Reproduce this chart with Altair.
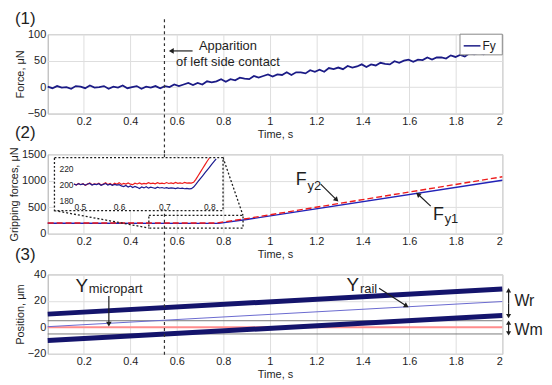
import altair as alt
import numpy as np
import pandas as pd

FONT = "Liberation Sans"
INK = "#1e1e1e"
NAVY = "#1b1b86"

# ---------------- shared x axis ----------------
time_ticks = [0.2, 0.4, 0.6, 0.8, 1.0, 1.2, 1.4, 1.6, 1.8, 2.0]
x_domain = [0.045, 2.0]
contact_time = 0.547

# ---------------- (1) force Fy ----------------
force_domain = [-50, 100]
force_ticks = [-50, 0, 50, 100]
fy_force = [1, -2, 2, -1, 0, -3, 2, 1, -2, 3, -1, 0, 2, -3, 1, -1, 3, -2, 0, 2, -3, 1, -1, 2, -2,
            2, 0, 5, 2, 5, 8, 4, 8, 5, 11, 9, 11, 15, 10, 15, 13, 18, 16, 15, 21, 18, 21, 24, 20,
            24, 23, 28, 23, 28, 28, 26, 32, 29, 33, 29, 36, 34, 37, 34, 40, 37, 39, 43, 38, 43,
            41, 46, 44, 43, 49, 46, 50, 52, 48, 52, 51, 56, 52, 56, 56, 54, 60, 57, 61, 58, 64,
            62, 65, 62, 68, 65, 68, 68]
fy_time = np.round(np.linspace(0.045, 2.0, len(fy_force)), 4)

# ---------------- (2) gripping forces ----------------
grip_domain = [0, 1500]
grip_ticks = [0, 500, 1000, 1500]
fy1_time = [0.045, 0.78, 0.90, 2.0]
fy1_force = [198, 195, 268, 1010]
fy2_time = [0.045, 0.77, 0.90, 2.0]
fy2_force = [202, 202, 285, 1075]

inset_x_domain = [0.5, 0.82]
inset_x_ticks = [0.5, 0.6, 0.7, 0.8]
inset_y_domain = [179, 233]
inset_y_ticks = [180, 200, 220]
inset_time_flat = np.round(np.arange(0.5, 0.7601, 0.005), 3)
inset_fy2_flat = [200.5, 199.0, 201.0, 199.5, 200.8, 198.8, 200.2, 201.5, 199.3, 200.6,
                  199.8, 201.2, 199.0, 200.4, 201.8, 199.6, 200.9, 199.2, 201.4, 200.0,
                  202.0, 199.8, 201.0, 200.3, 201.6, 200.1, 199.5, 201.3, 200.4, 201.7,
                  200.2, 201.0, 200.6, 202.0, 200.8, 201.3, 200.5, 201.9, 200.9, 201.4,
                  200.7, 202.1, 201.0, 201.6, 200.8, 202.2, 201.2, 201.7, 201.0, 202.3,
                  201.4, 201.8, 201.5]
inset_fy1_flat = [200.0, 199.2, 200.8, 199.5, 200.5, 198.9, 200.3, 201.0, 199.1, 200.2,
                  199.6, 200.7, 198.8, 199.9, 200.9, 199.0, 200.1, 198.7, 199.8, 198.9,
                  199.5, 198.0, 197.2, 198.6, 196.5, 197.8, 195.9, 197.3, 196.2, 194.8,
                  196.6, 195.5, 196.9, 195.2, 196.4, 195.7, 194.9, 196.3, 195.4, 196.0,
                  195.1, 195.8, 194.9, 195.6, 195.2, 194.6, 195.5, 194.8, 195.3, 194.5,
                  195.0, 194.3, 194.6]
inset_fy2_ramp_time = [0.765, 0.770, 0.775, 0.780, 0.785, 0.790, 0.795, 0.800]
inset_fy2_ramp = [202.5, 206, 210.5, 215, 219.5, 224, 228.5, 232.5]
inset_fy1_ramp_time = [0.765, 0.770, 0.775, 0.780, 0.785, 0.790, 0.795, 0.800, 0.805, 0.810, 0.815]
inset_fy1_ramp = [196.5, 200, 203.5, 207, 210.5, 214, 217.5, 221, 224.5, 228, 231.5]

# ---------------- (3) positions ----------------
pos_domain = [-20, 40]
pos_ticks = [-20, 0, 20, 40]
rail_time = [0.045, 2.0]
rail_upper = [10, 29]
rail_lower = [-10, 9]
rail_center = [0.5, 19.5]
micropart_center = [0, 0]
micropart_upper = [5, 5]
micropart_lower = [-5, -5]

W, H, GAP = 458, 80, 41


# ---------------- helpers ----------------
def xq(field="t"):
    return alt.X(f"{field}:Q", scale=alt.Scale(domain=x_domain, nice=False, zero=False),
                 axis=alt.Axis(values=time_ticks, format="~g", title="Time, s"))


def make_y(domain, ticks, title):
    def yq(field="v"):
        return alt.Y(f"{field}:Q", scale=alt.Scale(domain=domain, nice=False, zero=False),
                     axis=alt.Axis(values=ticks, format="d", title=title))
    return yq


y1 = make_y(force_domain, force_ticks, "Force, μN")
y2 = make_y(grip_domain, grip_ticks, "Gripping forces, μN")
y3 = make_y(pos_domain, pos_ticks, "Position, μm")


def series(t, v, yf, **kw):
    df = pd.DataFrame({"t": t, "v": v})
    return alt.Chart(df).mark_line(**kw).encode(x=xq(), y=yf())


def texts(rows, yf, align="left"):
    df = pd.DataFrame(rows, columns=["t", "v", "label", "fs"])
    return alt.Chart(df).mark_text(align=align, baseline="middle", font=FONT, color=INK).encode(
        x=xq(), y=yf(), text="label:N", size=alt.Size("fs:Q", scale=None))


def arrows(rows, yf, size=32):
    df = pd.DataFrame(rows, columns=["t", "v", "t2", "v2", "a"])
    shaft = alt.Chart(df).mark_rule(color=INK, strokeWidth=1.2).encode(
        x=xq(), x2="t2:Q", y=yf(), y2="v2:Q")
    head = alt.Chart(df).mark_point(shape="triangle", filled=True, size=size, color=INK, opacity=1).encode(
        x=xq("t2"), y=yf("v2"), angle=alt.Angle("a:Q", scale=None))
    return [shaft, head]


def contact_rule(top, bottom):
    df = pd.DataFrame({"t": [contact_time]})
    return alt.Chart(df).mark_rule(color="#333333", strokeDash=[3, 3], strokeWidth=1.2).encode(
        x=xq(), y=alt.value(top), y2=alt.value(bottom))


def panel_label(s, dy):
    return alt.Chart(pd.DataFrame({"label": [s]})).mark_text(
        align="left", baseline="middle", font=FONT, fontSize=17, color=INK).encode(
        x=alt.value(-33), y=alt.value(dy), text="label:N")


# ---------------- panel 1 ----------------
legend_box = alt.Chart(pd.DataFrame({"t": [1.818], "t2": [2.0], "v": [61.0], "v2": [100.0]})).mark_rect(
    fill="white", stroke="#8a8a8a", strokeWidth=1).encode(x=xq(), x2="t2:Q", y=y1(), y2="v2:Q")
legend_line = alt.Chart(pd.DataFrame({"t": [1.834], "t2": [1.906], "v": [78.0]})).mark_rule(
    color=NAVY, strokeWidth=1.5).encode(x=xq(), x2="t2:Q", y=y1())

p1 = alt.layer(
    series(fy_time, fy_force, y1, color=NAVY, strokeWidth=1.8),
    contact_rule(-15, H + GAP),
    *arrows([(0.668, 68.4, 0.58, 68.4, 270)], y1),
    texts([(0.82, 78, "Apparition", 13), (0.82, 46.5, "of left side contact", 13)], y1, align="center"),
    legend_box, legend_line,
    texts([(1.915, 78, "Fy", 12)], y1),
    panel_label("(1)", -15.5),
).properties(width=W, height=H)

# ---------------- panel 2 ----------------
zoom_box = alt.Chart(pd.DataFrame({"t": [0.48], "t2": [0.885], "v": [107.0], "v2": [345.0]})).mark_rect(
    fill=None, stroke=INK, strokeDash=[2, 2], strokeWidth=1.3).encode(x=xq(), x2="t2:Q", y=y2(), y2="v2:Q")
connectors = alt.Chart(pd.DataFrame({"t": [0.074, 0.799], "t2": [0.48, 0.885],
                                     "v": [438.0, 1438.0], "v2": [107.0, 345.0]})).mark_rule(
    color=INK, strokeDash=[2, 2], strokeWidth=1.3).encode(x=xq(), x2="t2:Q", y=y2(), y2="v2:Q")
inset_box = alt.Chart(pd.DataFrame({"t": [0.074], "t2": [0.799], "v": [438.0], "v2": [1438.0]})).mark_rect(
    fill="white", stroke=INK, strokeDash=[2, 2], strokeWidth=1.3).encode(x=xq(), x2="t2:Q", y=y2(), y2="v2:Q")

main2 = alt.layer(
    series(fy1_time, fy1_force, y2, color="#2222b8", strokeWidth=1.4),
    series(fy2_time, fy2_force, y2, color="#ee1c1c", strokeWidth=1.4, strokeDash=[6, 3]),
    contact_rule(0, H + GAP),
    zoom_box, connectors, inset_box,
    texts([(1.112, 1007, "F", 18), (1.162, 905, "y2", 13),
           (1.702, 354, "F", 18), (1.752, 278, "y1", 13)], y2),
    *arrows([(1.219, 938, 1.285, 650, 135), (1.692, 520, 1.640, 735, 309)], y2),
    panel_label("(2)", -21.5),
)

inset_x = alt.X("t:Q", scale=alt.Scale(domain=inset_x_domain, range=[26.5, 172], nice=False, zero=False),
                axis=alt.Axis(orient="bottom", offset=-32.7, values=inset_x_ticks, format="~g", grid=False,
                              title=None, labelFontSize=8.5, labelPadding=1, zindex=2))
inset_y = alt.Y("v:Q", scale=alt.Scale(domain=inset_y_domain, range=[47.3, 3.3], nice=False, zero=False),
                axis=alt.Axis(orient="left", offset=-26.5, values=inset_y_ticks, grid=False,
                              title=None, labelFontSize=8.5, labelPadding=1, zindex=2))
inset_fy2 = pd.DataFrame({"t": list(inset_time_flat) + inset_fy2_ramp_time,
                          "v": inset_fy2_flat + inset_fy2_ramp})
inset_fy1 = pd.DataFrame({"t": list(inset_time_flat) + inset_fy1_ramp_time,
                          "v": inset_fy1_flat + inset_fy1_ramp})
inset = alt.layer(
    alt.Chart(inset_fy2).mark_line(color="#ee1c1c", strokeWidth=1.2).encode(x=inset_x, y=inset_y),
    alt.Chart(inset_fy1).mark_line(color="#1c1c90", strokeWidth=1.2).encode(x=inset_x, y=inset_y),
)

p2 = alt.layer(main2, inset).resolve_scale(x="independent", y="independent").properties(
    width=W, height=H)

# ---------------- panel 3 ----------------
p3 = alt.layer(
    series(rail_time, micropart_upper, y3, color="#7a7a7a", strokeWidth=1),
    series(rail_time, micropart_lower, y3, color="#7a7a7a", strokeWidth=1),
    series(rail_time, micropart_center, y3, color="#ff8c8c", strokeWidth=2),
    series(rail_time, rail_center, y3, color="#6a6ad0", strokeWidth=1),
    series(rail_time, rail_upper, y3, color="#14146c", strokeWidth=5),
    series(rail_time, rail_lower, y3, color="#14146c", strokeWidth=5),
    contact_rule(0, H + 1),
    texts([(0.165, 31.4, "Y", 19), (0.222, 28.7, "micropart", 13),
           (1.330, 31.7, "Y", 19), (1.388, 28.7, "rail", 13),
           (2.052, 19.7, "Wr", 16), (2.052, -2.3, "Wm", 16)], y3),
    *arrows([(0.308, 23.7, 0.308, 3.0, 180), (1.470, 29.5, 1.585, 16.5, 120)], y3),
    *arrows([(2.027, 18.0, 2.027, 27.5, 0), (2.027, 18.0, 2.027, 9.0, 180),
             (2.027, -0.5, 2.027, 3.0, 0), (2.027, -0.5, 2.027, -4.0, 180)], y3, size=26),
    panel_label("(3)", -20),
).properties(width=W, height=H)

chart = alt.vconcat(p1, p2, p3, spacing=GAP, bounds="flush").properties(
    padding={"left": 0, "top": 0, "right": 0, "bottom": 0}
).configure_view(stroke="#a8a8a8", strokeWidth=1).configure_axis(
    labelFont=FONT, titleFont=FONT, labelFontSize=11, titleFontSize=11, titleFontWeight="normal",
    labelColor=INK, titleColor=INK, gridColor="#dedede", domain=False, ticks=False,
    labelPadding=2, titlePadding=2
)

chart.save("out.html", embed_options={"renderer": "svg", "actions": False})
